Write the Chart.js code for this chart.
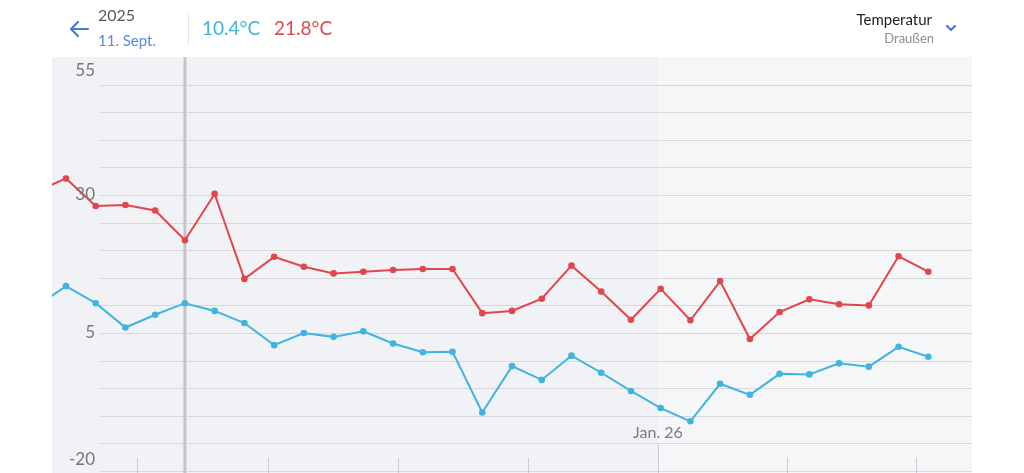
<!DOCTYPE html>
<html lang="de">
<head>
<meta charset="UTF-8">
<title>Temperatur Draußen</title>
<script src="https://cdn.jsdelivr.net/npm/chart.js"></script>
<style>
  html, body { margin: 0; padding: 0; background: #fff; font-family: Lato, "Open Sans", sans-serif; }
  #wrap { position: relative; width: 1024px; height: 473px; overflow: hidden; }
  #chart { position: absolute; left: 0; top: 0; }
  .t { position: absolute; white-space: nowrap; line-height: 1; }
  #back { position: absolute; left: 67px; top: 19px; }
  #sep { position: absolute; left: 188px; top: 12px; width: 1px; height: 34px; background: #e6e7ea; }
  #chev { position: absolute; left: 945px; top: 24px; }
</style>
</head>
<body>
<div id="wrap">
  <canvas id="chart" width="1024" height="473"></canvas>
  <svg id="back" width="24" height="20" viewBox="0 0 24 20">
    <path d="M21 10 H4 M11 3 L4 10 L11 17" fill="none" stroke="#4a78df" stroke-width="2.2" stroke-linecap="round" stroke-linejoin="round"/>
  </svg>
  <div class="t" style="left:98px; top:7px; font-size:16px; color:#555a60;">2025</div>
  <div class="t" style="left:98px; top:33px; font-size:15px; color:#5b86e0;">11. Sept.</div>
  <div id="sep"></div>
  <div class="t" style="left:202px; top:18px; font-size:19px; color:#40b4d9;">10.4°C</div>
  <div class="t" style="left:274px; top:18px; font-size:19px; color:#e0474d;">21.8°C</div>
  <div class="t" style="right:92px; top:12px; font-size:15px; color:#222;">Temperatur</div>
  <div class="t" style="right:90px; top:32px; font-size:13px; color:#8a8e94;">Draußen</div>
  <svg id="chev" width="12" height="9" viewBox="0 0 12 9">
    <path d="M2 2 L6 6 L10 2" fill="none" stroke="#4a78df" stroke-width="2.2" stroke-linecap="round" stroke-linejoin="round"/>
  </svg>
</div>

<script>
// weekly values, first entry is the week before the first visible one
const weeks = [-1, 0, 1, 2, 3, 4, 5, 6, 7, 8, 9, 10, 11, 12, 13, 14, 15, 16, 17, 18, 19, 20, 21, 22, 23, 24, 25, 26, 27, 28, 29];
const maxTemp = [30.6, 33.0, 28.0, 28.2, 27.2, 21.8, 30.2, 14.8, 18.8, 17.0, 15.8, 16.1, 16.4, 16.6, 16.6, 8.6, 9.0, 11.2, 17.2, 12.5, 7.4, 13.0, 7.3, 14.4, 3.9, 8.8, 11.1, 10.2, 10.0, 18.9, 16.1];
const minTemp = [9.8, 13.5, 10.4, 6.0, 8.3, 10.4, 9.0, 6.8, 2.8, 5.0, 4.3, 5.3, 3.1, 1.5, 1.6, -9.4, -1.0, -3.5, 0.9, -2.2, -5.5, -8.6, -11.0, -4.2, -6.2, -2.4, -2.5, -0.5, -1.1, 2.5, 0.7];
const selectedWeek = 4;

// y axis: grid every 5, labels every 25
const yTicks = [55, 30, 5, -20];
const yGrid = [50, 45, 40, 35, 30, 25, 20, 15, 10, 5, 0, -5, -10, -15, -20];

// month marks along the bottom (in weeks)
const monthMarks = [2.39, 6.79, 11.17, 15.54, 19.91, 24.25, 28.59];
const monthLabels = ['', '', '', '', 'Jan. 26', '', ''];

const redColor = '#e0474d';
const blueColor = '#40b4df';

const decor = {
  id: 'decor',
  beforeDatasetsDraw(chart) {
    const { ctx, chartArea: a, scales: { x, y } } = chart;
    const bottom = chart.height;
    ctx.save();
    // background panels
    const split = x.getPixelForValue(monthMarks[4]);
    ctx.fillStyle = '#f1f2f5';
    ctx.fillRect(a.left, a.top, split - a.left, bottom - a.top);
    ctx.fillStyle = '#f5f6f8';
    ctx.fillRect(split, a.top, a.right - split, bottom - a.top);
    // horizontal grid
    ctx.strokeStyle = '#d6d8dc';
    ctx.lineWidth = 1.2;
    yGrid.forEach(v => {
      const py = Math.round(y.getPixelForValue(v)) + 0.5;
      ctx.beginPath();
      ctx.moveTo(100, py);
      ctx.lineTo(a.right, py);
      ctx.stroke();
    });
    // month marks
    ctx.strokeStyle = '#c9cbd0';
    ctx.lineWidth = 1;
    monthMarks.forEach((m, i) => {
      const px = Math.round(x.getPixelForValue(m)) + 0.5;
      ctx.beginPath();
      ctx.moveTo(px, monthLabels[i] ? 445 : 458);
      ctx.lineTo(px, bottom);
      ctx.stroke();
    });
    // selected day cursor
    const cx = x.getPixelForValue(selectedWeek);
    ctx.strokeStyle = '#c3c5ca';
    ctx.lineWidth = 3;
    ctx.beginPath();
    ctx.moveTo(cx, a.top);
    ctx.lineTo(cx, bottom);
    ctx.stroke();
    ctx.restore();
  },
  afterDatasetsDraw(chart) {
    const { ctx, chartArea: a, scales: { x, y } } = chart;
    ctx.save();
    ctx.font = '17px Lato, "Open Sans", sans-serif';
    ctx.fillStyle = '#74777d';
    ctx.textAlign = 'right';
    ctx.textBaseline = 'middle';
    yTicks.forEach(v => {
      let py = y.getPixelForValue(v);
      py = Math.min(Math.max(py, a.top + 14), a.bottom - 11);
      ctx.fillText(String(v), 95, py);
    });
    ctx.font = '16px Lato, "Open Sans", sans-serif';
    ctx.fillStyle = '#787b81';
    ctx.textAlign = 'center';
    monthMarks.forEach((m, i) => {
      if (monthLabels[i]) ctx.fillText(monthLabels[i], x.getPixelForValue(m), 433);
    });
    ctx.restore();
  }
};

new Chart(document.getElementById('chart'), {
  type: 'line',
  data: {
    labels: weeks,
    datasets: [
      {
        label: 'Max',
        data: maxTemp,
        borderColor: redColor,
        backgroundColor: redColor,
        borderWidth: 2,
        pointRadius: 2.3,
        pointHoverRadius: 2.3,
        tension: 0
      },
      {
        label: 'Min',
        data: minTemp,
        borderColor: blueColor,
        backgroundColor: blueColor,
        borderWidth: 2,
        pointRadius: 2.3,
        pointHoverRadius: 2.3,
        tension: 0
      }
    ]
  },
  options: {
    responsive: false,
    animation: false,
    layout: { autoPadding: false, padding: { left: 52, right: 52, top: 57, bottom: 2 } },
    plugins: { legend: { display: false }, tooltip: { enabled: false } },
    scales: {
      x: { type: 'linear', display: false, min: -0.47, max: 30.47 },
      y: { display: false, min: -20, max: 55 }
    }
  },
  plugins: [decor]
});
</script>
</body>
</html>
